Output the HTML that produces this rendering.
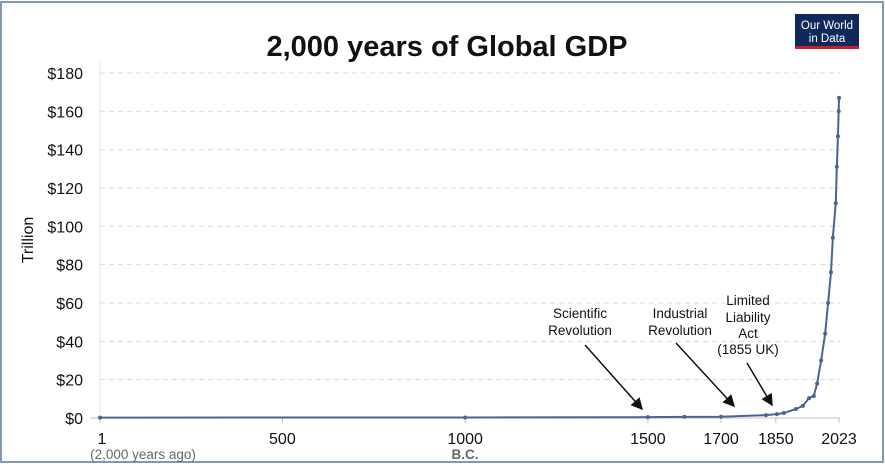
<!DOCTYPE html>
<html><head><meta charset="utf-8"><style>
body{margin:0;background:#fff;}
svg{display:block;font-family:"Liberation Sans",sans-serif;}
</style></head><body>
<svg id="c" width="885" height="474">
<rect x="1" y="2" width="882" height="460" fill="#fff" stroke="#8497b0" stroke-width="2"/>
<text x="447" y="56" text-anchor="middle" font-size="29" font-weight="bold" fill="#111">2,000 years of Global GDP</text>
<g>
<rect x="795" y="14" width="64" height="35" fill="#0f2a5a"/>
<rect x="795" y="46" width="64" height="3" fill="#c8202a"/>
<text x="827" y="29" text-anchor="middle" font-size="11.5" fill="#fff">Our World</text>
<text x="827" y="42" text-anchor="middle" font-size="11.5" fill="#fff">in Data</text>
</g>
<text transform="translate(33,240) rotate(-90)" text-anchor="middle" font-size="16" fill="#111">Trillion</text>
<g id="grid"></g><g id="axes"></g><g id="series"></g>
<g font-size="13.5" fill="#111" text-anchor="middle">
<text x="580" y="318">Scientific</text><text x="580" y="335">Revolution</text>
<text x="680" y="318">Industrial</text><text x="680" y="335">Revolution</text>
<text x="748" y="305">Limited</text><text x="748" y="322">Liability</text><text x="748" y="338">Act</text><text x="748" y="354">(1855 UK)</text>
</g>
<defs><marker id="ah" markerWidth="8" markerHeight="8" refX="7" refY="4" orient="auto"><path d="M0,0 L8,4 L0,8 z" fill="#111"/></marker></defs>
<g stroke="#111" stroke-width="1.5">
<line x1="585" y1="345" x2="642" y2="409" marker-end="url(#ah)"/>
<line x1="676" y1="343" x2="734" y2="406" marker-end="url(#ah)"/>
<line x1="747" y1="363" x2="772" y2="405" marker-end="url(#ah)"/>
</g>
</svg>
<script>
const yTicks=[0,20,40,60,80,100,120,140,160,180];
const xTicks=[1,500,1000,1500,1700,1850,2023];
const years=[1,1000,1500,1600,1700,1823,1853,1872,1905,1924,1941,1954,1963,1974,1985,1993,2001,2006,2014,2017,2020,2022,2023];
const gdp=[0.2,0.27,0.43,0.6,0.64,1.5,2,2.6,4.7,6.3,10.4,11.5,18,30,44,60,76,94,112,131,147,160,167];
const NS='http://www.w3.org/2000/svg';
const X=y=>100+(y-1)*0.3655;
const Y=v=>418-v*1.917;
function mk(t,a,p){const e=document.createElementNS(NS,t);for(const k in a)e.setAttribute(k,a[k]);p.appendChild(e);return e;}
const grid=document.getElementById('grid'),axes=document.getElementById('axes'),ser=document.getElementById('series');
mk('line',{x1:100,y1:60,x2:100,y2:418,stroke:'#e4e4e4'},grid);
yTicks.forEach(v=>{
 if(v>0){const l=mk('line',{x1:100,y1:Y(v),x2:840,y2:Y(v),stroke:'#d9d9d9','stroke-dasharray':'5,4'},grid);
 
 }
 const t=mk('text',{x:83,y:Y(v)+6,'text-anchor':'end','font-size':16,fill:'#111'},axes);t.textContent='$'+v;
 
 
});
const ax=mk('line',{x1:90,y1:418,x2:840,y2:418,stroke:'#bfbfbf'},axes);


xTicks.forEach(v=>{
 mk('line',{x1:X(v),y1:418,x2:X(v),y2:423,stroke:'#bfbfbf'},axes);
 const t=mk('text',{x:X(v)+(v===1?2:0),y:444,'text-anchor':'middle','font-size':16,fill:'#111'},axes);t.textContent=v;
 
 
});
let s=mk('text',{x:143,y:459,'text-anchor':'middle','font-size':13.5,fill:'#666'},axes);s.textContent='(2,000 years ago)';


s=mk('text',{x:465,y:459,'text-anchor':'middle','font-size':13.5,'font-weight':'bold',fill:'#666'},axes);s.textContent='B.C.';


const p=mk('polyline',{points:years.map((y,i)=>X(y)+','+Y(gdp[i])).join(' '),fill:'none',stroke:'#4a6491','stroke-width':2},ser);


years.forEach((y,i)=>{const c=mk('circle',{cx:X(y),cy:Y(gdp[i]),r:2,fill:'#4a6491'},ser);
 
 });
</script>
</body></html>
